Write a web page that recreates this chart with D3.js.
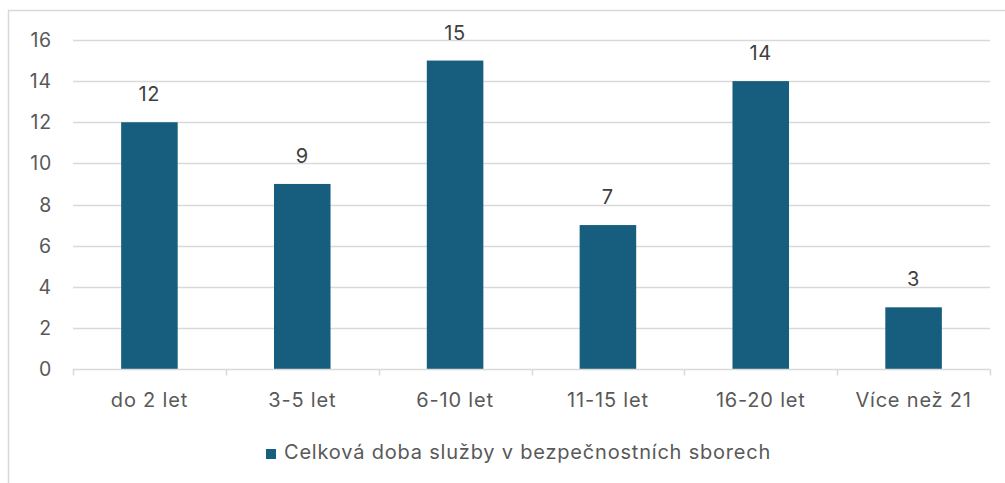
<!DOCTYPE html>
<html>
<head>
<meta charset="utf-8">
<script src="https://cdn.jsdelivr.net/npm/d3@7"></script>
<style>
  html, body { margin: 0; padding: 0; background: #fff; }
  svg { display: block; font-family: 'Inter', 'Open Sans', sans-serif; letter-spacing: 0.8px; }
</style>
</head>
<body>
<div id="chart"></div>
<script>
'use strict';
var categories = ['do 2 let', '3-5 let', '6-10 let', '11-15 let', '16-20 let', 'Více než 21'];
var values = [12, 9, 15, 7, 14, 3];
var yTicks = [0, 2, 4, 6, 8, 10, 12, 14, 16];
var seriesName = 'Celková doba služby v bezpečnostních sborech';

var width = 1005, height = 483;
var margin = {top: 40, right: 15, bottom: 114, left: 73};
var barColor = '#175E7E';
var textColor = '#595959';
var gridColor = '#D9D9D9';

var svg = d3.select('#chart').append('svg')
  .attr('width', width)
  .attr('height', height);

// chart frame (only top and left edges visible)
svg.append('path')
  .attr('d', 'M8.5,' + height + 'V10.5H' + width)
  .attr('fill', 'none')
  .attr('stroke', gridColor)
  .attr('stroke-width', 1.5);

var x = d3.scaleBand()
  .domain(categories)
  .range([margin.left, width - margin.right])
  .paddingInner(0.63)
  .paddingOuter(0.315);

var xBand = d3.scaleBand()
  .domain(categories)
  .range([margin.left, width - margin.right]);

var y = d3.scaleLinear()
  .domain([0, 16])
  .range([height - margin.bottom, margin.top]);

// gridlines
svg.append('g')
  .selectAll('line')
  .data(yTicks.filter(function(d) { return d > 0; }))
  .enter().append('line')
  .attr('x1', margin.left)
  .attr('x2', width - margin.right)
  .attr('y1', function(d) { return Math.round(y(d)) + 0.5; })
  .attr('y2', function(d) { return Math.round(y(d)) + 0.5; })
  .attr('stroke', gridColor)
  .attr('stroke-width', 1.5);

// y axis labels
svg.append('g')
  .selectAll('text')
  .data(yTicks)
  .enter().append('text')
  .attr('x', 52)
  .attr('y', function(d) { return y(d); })
  .attr('dy', '0.36em')
  .attr('text-anchor', 'end')
  .attr('fill', textColor)
  .style('font-size', '19.5px')
  .text(function(d) { return d; });

// bars
svg.append('g')
  .selectAll('rect')
  .data(values)
  .enter().append('rect')
  .attr('x', function(d, i) { return x(categories[i]); })
  .attr('width', x.bandwidth())
  .attr('y', function(d) { return y(d); })
  .attr('height', function(d) { return y(0) - y(d); })
  .attr('fill', barColor);

// value labels
svg.append('g')
  .selectAll('text')
  .data(values)
  .enter().append('text')
  .attr('x', function(d, i) { return x(categories[i]) + x.bandwidth() / 2; })
  .attr('y', function(d) { return y(d) - 21; })
  .attr('text-anchor', 'middle')
  .attr('fill', '#404040')
  .style('font-size', '20px')
  .text(function(d) { return d; });

// x axis line and ticks
var axisY = Math.round(y(0)) + 0.5;
var xAxis = svg.append('g');
xAxis.append('line')
  .attr('x1', margin.left)
  .attr('x2', width - margin.right)
  .attr('y1', axisY)
  .attr('y2', axisY)
  .attr('stroke', gridColor)
  .attr('stroke-width', 1.5);

var boundaries = categories.map(function(c) { return xBand(c); }).concat([width - margin.right]);
xAxis.selectAll('line.tick')
  .data(boundaries)
  .enter().append('line')
  .attr('class', 'tick')
  .attr('x1', function(d) { return Math.round(d) + 0.5; })
  .attr('x2', function(d) { return Math.round(d) + 0.5; })
  .attr('y1', axisY)
  .attr('y2', axisY + 6)
  .attr('stroke', gridColor)
  .attr('stroke-width', 1.5);

xAxis.selectAll('text')
  .data(categories)
  .enter().append('text')
  .attr('x', function(d) { return xBand(d) + xBand.bandwidth() / 2; })
  .attr('y', 407)
  .attr('text-anchor', 'middle')
  .attr('fill', textColor)
  .style('font-size', '20px')
  .text(function(d) { return d; });

// legend
var legend = svg.append('g');
legend.append('rect')
  .attr('x', 266)
  .attr('y', 449)
  .attr('width', 10)
  .attr('height', 10)
  .attr('fill', barColor);
legend.append('text')
  .attr('x', 284)
  .attr('y', 459)
  .attr('fill', textColor)
  .style('font-size', '20px')
  .text(seriesName);
</script>
</body>
</html>
